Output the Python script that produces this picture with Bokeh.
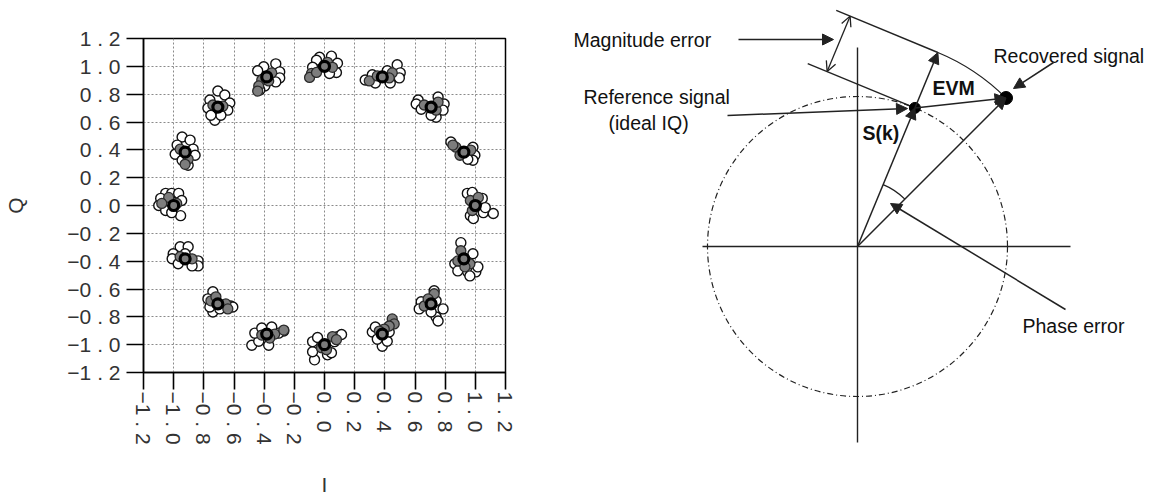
import math
from bokeh.plotting import figure
from bokeh.layouts import row
from bokeh.models import (ColumnDataSource, FixedTicker, CustomJSTickFormatter,
                          Arrow, NormalHead, OpenHead, Range1d)
from bokeh.core.properties import value
from bokeh.embed import file_html
from bokeh.resources import INLINE

# ---------------- constellation data (left panel) ----------------
TICKS = [-1.2, -1.0, -0.8, -0.6, -0.4, -0.2, 0.0, 0.2, 0.4, 0.6, 0.8, 1.0, 1.2]
X_LABEL = "I"
Y_LABEL = "Q"

# ideal 16-PSK symbol positions
IDEAL_I = [1.0, 0.924, 0.707, 0.383, 0.0, -0.383, -0.707, -0.924,
           -1.0, -0.924, -0.707, -0.383, 0.0, 0.383, 0.707, 0.924]
IDEAL_Q = [0.0, 0.383, 0.707, 0.924, 1.0, 0.924, 0.707, 0.383,
           0.0, -0.383, -0.707, -0.924, -1.0, -0.924, -0.707, -0.383]

# received (noisy) samples, offsets from the ideal symbol
HOLLOW_DI = [
    [-0.053, -0.020, 0.046, 0.053, 0.119, -0.033, -0.013, 0.066],
    [-0.086, 0.060, 0.073, 0.060, 0.026],
    [-0.086, -0.099, 0.046, 0.086, 0.079, 0.033, 0.000, -0.066],
    [-0.113, -0.066, 0.099, 0.119, 0.113, 0.053, 0.033, -0.046],
    [-0.033, 0.046, 0.086, 0.079, -0.053, 0.033, -0.079],
    [0.060, -0.020, -0.060, 0.086, 0.086, 0.060, -0.013, -0.046],
    [0.000, 0.046, -0.053, 0.079, 0.066, -0.066, -0.020, 0.020, -0.046],
    [-0.020, 0.033, -0.053, 0.053, -0.066, 0.066, 0.020, -0.020],
    [-0.053, -0.013, 0.033, -0.086, 0.053, -0.099, -0.053, 0.046, -0.013],
    [-0.033, 0.020, -0.079, -0.086, 0.086, 0.086, 0.046, -0.046, 0.000],
    [-0.033, -0.066, 0.086, 0.099, -0.033, 0.013, -0.053],
    [-0.099, -0.053, 0.013, 0.113, 0.079, -0.079, -0.033, 0.033],
    [-0.066, -0.079, -0.079, 0.020, 0.046, 0.086, 0.113, 0.066, -0.046],
    [-0.066, -0.046, 0.000, 0.033, 0.046, -0.033],
    [0.020, -0.066, -0.079, 0.079, 0.033, 0.046, 0.000, 0.033],
    [-0.020, -0.060, -0.040, 0.026, 0.079, 0.093, 0.060, 0.040],
]
HOLLOW_DQ = [
    [0.087, 0.094, 0.051, -0.051, -0.058, -0.073, -0.094, -0.015],
    [0.073, 0.036, -0.022, -0.058, -0.051],
    [0.051, 0.022, 0.073, 0.022, -0.022, -0.073, -0.058, -0.015],
    [-0.022, 0.015, 0.087, 0.029, -0.007, -0.044, 0.044, -0.044],
    [0.065, 0.073, 0.022, -0.044, 0.044, -0.051, -0.007],
    [0.094, 0.073, 0.044, 0.036, -0.007, -0.036, -0.065, -0.094],
    [0.116, 0.087, 0.051, 0.029, -0.022, -0.007, -0.094, -0.058, -0.058],
    [0.109, 0.087, 0.051, 0.022, -0.015, -0.022, -0.094, -0.058],
    [0.087, 0.087, 0.087, 0.051, 0.036, 0.000, -0.036, -0.073, -0.051],
    [0.087, 0.087, 0.036, 0.000, -0.015, -0.051, -0.051, -0.036, 0.036],
    [0.087, 0.036, -0.015, -0.022, -0.058, -0.036, -0.022],
    [-0.080, -0.051, -0.080, 0.022, 0.007, 0.007, 0.044, 0.051],
    [-0.109, -0.051, 0.022, -0.073, -0.058, 0.058, 0.073, 0.022, 0.051],
    [0.015, 0.051, -0.087, -0.051, 0.015, -0.036],
    [0.094, 0.015, -0.036, -0.036, -0.094, -0.123, -0.058, 0.022],
    [0.116, -0.036, -0.087, -0.094, -0.094, -0.058, 0.036, -0.123],
]
GREY_DI = [
    [-0.033, -0.020, 0.020],
    [-0.053, -0.073, -0.026, 0.046],
    [-0.046, 0.033, 0.046],
    [-0.086, 0.066, 0.046, -0.033],
    [-0.086, -0.099, -0.053, 0.020, 0.053],
    [-0.033, -0.053, 0.033, 0.013, -0.060],
    [0.033, -0.033],
    [0.020, -0.033, 0.000],
    [-0.033, 0.020, -0.079],
    [0.046, -0.033],
    [-0.046, 0.053, 0.066, -0.013],
    [-0.033, 0.053, 0.113, 0.020],
    [0.053, 0.079, -0.020, 0.013],
    [0.066, 0.079, 0.046, 0.013, -0.020],
    [-0.046, 0.020, -0.020],
    [-0.040, 0.040, -0.020, 0.007],
]
GREY_DQ = [
    [0.036, -0.036, 0.058],
    [0.036, 0.051, -0.022, 0.015],
    [0.015, -0.022, 0.036],
    [-0.029, 0.029, -0.007, 0.007],
    [-0.051, -0.080, -0.044, 0.029, -0.007],
    [-0.022, -0.065, 0.029, -0.029, -0.102],
    [0.007, 0.015],
    [-0.051, 0.022, -0.087],
    [0.058, 0.015, 0.015],
    [0.000, 0.015],
    [0.022, 0.000, -0.036, 0.051],
    [-0.007, 0.000, 0.029, -0.029],
    [0.058, 0.036, -0.022, -0.036],
    [0.109, 0.073, 0.058, 0.036, 0.022],
    [-0.015, 0.073, 0.036],
    [-0.015, -0.036, 0.058, -0.058],
]

# ---------------- EVM diagram data (right panel) ----------------
REF_MAG = 150.0          # ideal symbol magnitude (diagram units)
REF_ANGLE_DEG = 67.5
REC_MAG = 210.0          # recovered symbol magnitude
REC_ANGLE_DEG = 45.0
AXIS_H = [-155, 213]
AXIS_V = [-196, 199]
PHASE_ARC_R = 67
TANGENT_LEN = [110, 116]  # upper (recovered magnitude) / lower (reference magnitude)
MAG_ERR_OFFSET = 95
CALLOUT_TAIL_X = [-119, -130, 196, 208]
CALLOUT_TAIL_Y = [207, 131, 184, -63]
CALLOUT_TIP_X = [-24, 50, 156, 33]
CALLOUT_TIP_Y = [207, 138, 158, 43]
LABEL_TEXT = ["Magnitude error", "Reference signal", "(ideal IQ)", "Recovered signal", "Phase error"]
LABEL_X = [-284, -274, -249, 136, 165]
LABEL_Y = [207, 150, 124, 191, -79]
BOLD_TEXT = ["S(k)", "EVM"]
BOLD_X = [5, 75]
BOLD_Y = [114, 159]

FONT = "Liberation Sans"
INK = "#222222"

# ---------------- left figure ----------------
W1, H = 520, 500
p1 = figure(width=W1, height=H, x_range=Range1d(-1.2, 1.2), y_range=Range1d(-1.2, 1.2),
            output_backend="svg", toolbar_location=None,
            min_border_left=143, min_border_right=15, min_border_top=38, min_border_bottom=128)
p1.frame_align = False
p1.background_fill_color = "white"
p1.border_fill_color = "white"
p1.outline_line_color = "black"
p1.outline_line_width = 1.5

fmt = CustomJSTickFormatter(code="""
const s = Math.abs(tick).toFixed(1).split('').join(' ');
return (tick < -1e-9 ? '\u2212' : '') + s;
""")
for ax in (p1.xaxis[0], p1.yaxis[0]):
    ax.ticker = FixedTicker(ticks=TICKS)
    ax.formatter = fmt
    ax.major_tick_out = 17
    ax.major_tick_in = 0
    ax.minor_tick_line_color = None
    ax.major_tick_line_width = 1.6
    ax.major_tick_line_color = "black"
    ax.axis_line_color = "black"
    ax.axis_line_width = 1.5
    ax.major_label_text_font = FONT
    ax.major_label_text_font_size = "21px"
    ax.major_label_text_color = "#333333"
    ax.axis_label_text_font = FONT
    ax.axis_label_text_font_size = "21px"
    ax.axis_label_text_font_style = "normal"
    ax.axis_label_text_color = "#333333"

p1.xaxis.major_label_orientation = -math.pi / 2
p1.xaxis.major_label_standoff = 2
p1.xaxis.axis_label = X_LABEL
p1.xaxis.axis_label_standoff = 25
p1.yaxis.major_label_standoff = 6
p1.yaxis.axis_label = Y_LABEL
p1.yaxis.axis_label_standoff = 37

for g in (p1.xgrid[0], p1.ygrid[0]):
    g.ticker = FixedTicker(ticks=TICKS)
    g.grid_line_color = "#8a8a8a"
    g.grid_line_dash = "2 2"
    g.grid_line_width = 1

hi, hq, gi, gq = [], [], [], []
for k in range(len(IDEAL_I)):
    for a, b in zip(HOLLOW_DI[k], HOLLOW_DQ[k]):
        hi.append(IDEAL_I[k] + a)
        hq.append(IDEAL_Q[k] + b)
    for a, b in zip(GREY_DI[k], GREY_DQ[k]):
        gi.append(IDEAL_I[k] + a)
        gq.append(IDEAL_Q[k] + b)

p1.scatter(hi, hq, size=10, marker="circle", fill_color="white", line_color="#111111", line_width=1.4)
p1.scatter(gi, gq, size=10, marker="circle", fill_color="#7d7d7d", line_color="#2a2a2a", line_width=1.3)
p1.scatter(IDEAL_I, IDEAL_Q, size=10, marker="circle", fill_color="#7a7a7a", line_color="black", line_width=3.2)

# ---------------- right figure (EVM vector diagram) ----------------
W2 = 1150 - W1
OX, OY = 857 - W1, 246   # origin position from left / top of this panel (pixels)
p2 = figure(width=W2, height=H, x_range=Range1d(-OX, W2 - OX), y_range=Range1d(OY - H, OY),
            output_backend="svg", toolbar_location=None, x_axis_type=None, y_axis_type=None,
            min_border=0)
p2.frame_align = False
p2.grid.visible = False
p2.outline_line_color = None

tr = math.radians(REF_ANGLE_DEG)
trc = math.radians(REC_ANGLE_DEG)
u = (math.cos(tr), math.sin(tr))
t = (-math.sin(tr), math.cos(tr))
ref = (REF_MAG * u[0], REF_MAG * u[1])
ext = (REC_MAG * u[0], REC_MAG * u[1])
rec = (REC_MAG * math.cos(trc), REC_MAG * math.sin(trc))

# IQ axes
p2.segment(x0=[AXIS_H[0], 0], y0=[0, AXIS_V[0]], x1=[AXIS_H[1], 0], y1=[0, AXIS_V[1]],
           line_color=INK, line_width=1.4)
# ideal magnitude circle (dash-dot)
p2.circle(x=[0], y=[0], radius=REF_MAG, fill_color=None, line_color=INK,
          line_width=1.2, line_dash="6 3 1 3")
# tangent lines bounding the magnitude error
p2.segment(x0=[ext[0], ref[0]], y0=[ext[1], ref[1]],
           x1=[ext[0] + TANGENT_LEN[0] * t[0], ref[0] + TANGENT_LEN[1] * t[0]],
           y1=[ext[1] + TANGENT_LEN[0] * t[1], ref[1] + TANGENT_LEN[1] * t[1]],
           line_color=INK, line_width=1.4)
# arc of recovered magnitude and phase-error arc
p2.arc(x=[0, 0], y=[0, 0], radius=[REC_MAG, PHASE_ARC_R], start_angle=trc, end_angle=tr,
       direction="anticlock", line_color=INK, line_width=1.3)

# vectors with filled heads
vec = ColumnDataSource(dict(
    x0=[0, 0, ref[0], ref[0]] + CALLOUT_TAIL_X,
    y0=[0, 0, ref[1], ref[1]] + CALLOUT_TAIL_Y,
    x1=[ref[0], rec[0], rec[0], ext[0]] + CALLOUT_TIP_X,
    y1=[ref[1], rec[1], rec[1], ext[1]] + CALLOUT_TIP_Y,
))
p2.add_layout(Arrow(source=vec, x_start="x0", y_start="y0", x_end="x1", y_end="y1",
                    line_color=INK, line_width=1.5,
                    end=NormalHead(size=11, fill_color=INK, line_color=INK, line_width=1)))
# magnitude error double arrow
lo = (ref[0] + MAG_ERR_OFFSET * t[0], ref[1] + MAG_ERR_OFFSET * t[1])
hi2 = (ext[0] + MAG_ERR_OFFSET * t[0], ext[1] + MAG_ERR_OFFSET * t[1])
p2.add_layout(Arrow(x_start=lo[0], y_start=lo[1], x_end=hi2[0], y_end=hi2[1],
                    line_color=INK, line_width=1.3,
                    start=OpenHead(size=10, line_color=INK, line_width=1.3),
                    end=OpenHead(size=10, line_color=INK, line_width=1.3)))
# symbol dots
p2.scatter([ref[0]], [ref[1]], size=11, marker="circle", fill_color="black", line_color="black")
p2.scatter([rec[0]], [rec[1]], size=13, marker="circle", fill_color="black", line_color="black")

p2.text(x=LABEL_X, y=LABEL_Y, text=LABEL_TEXT, text_font=value(FONT), text_font_size="19.5px",
        text_align="left", text_baseline="middle", text_color="#111111")
p2.text(x=BOLD_X, y=BOLD_Y, text=BOLD_TEXT, text_font=value(FONT), text_font_size="19.5px",
        text_font_style="bold", text_align="left", text_baseline="middle", text_color="#111111")

layout = row(p1, p2)
open("out.html", "w").write(file_html(layout, INLINE))
